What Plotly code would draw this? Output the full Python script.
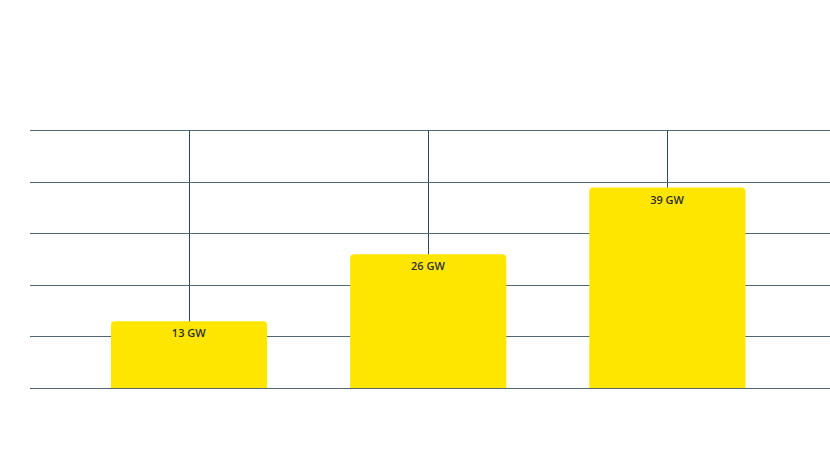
import plotly.graph_objects as go

categories = ["A", "B", "C"]
values = [13, 26, 39]
labels = ["13 GW", "26 GW", "39 GW"]

W, H = 830, 476
top_px, bot_px = 131, 388

fig = go.Figure()
fig.add_trace(go.Bar(
    x=categories,
    y=values,
    text=labels,
    textposition="inside",
    insidetextanchor="end",
    textangle=0,
    textfont=dict(family="Open Sans", size=11, color="#2e2e38", weight=600),
    marker=dict(color="#FFE600", line=dict(width=0), cornerradius=4),
    width=0.653,
    hoverinfo="skip",
))

fig.update_layout(
    width=W, height=H,
    margin=dict(l=30, r=0, t=0, b=0, autoexpand=False),
    paper_bgcolor="white",
    plot_bgcolor="white",
    showlegend=False,
    font=dict(family="Open Sans"),
)
fig.update_xaxes(
    range=[-0.665, 2.68],
    showgrid=True, gridcolor="#2b4a57", gridwidth=1,
    showticklabels=False, ticks="", zeroline=False,
    showline=True, mirror=True, linecolor="#4f6874", linewidth=1.2,
)
fig.update_yaxes(
    range=[0, 50], dtick=10, tick0=0,
    showgrid=True, gridcolor="#4f6874", gridwidth=1.2,
    showticklabels=False, ticks="", zeroline=False, showline=False,
    domain=[(H - bot_px) / H, (H - top_px) / H],
)

fig.write_html(
    "out.html",
    config={"displayModeBar": False},
    post_script="document.body.style.margin='0px';document.body.style.overflow='hidden';",
)
